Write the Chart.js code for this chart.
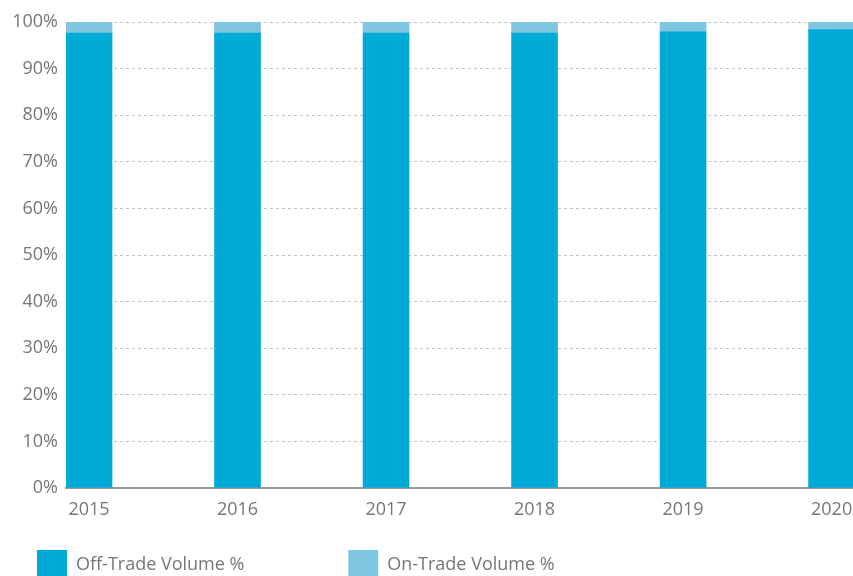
<!DOCTYPE html>
<html>
<head>
<meta charset="utf-8">
<script src="https://cdn.jsdelivr.net/npm/chart.js@4/dist/chart.umd.min.js"></script>
<style>
html,body{margin:0;padding:0;overflow:hidden;background:#fff;}
#wrap{width:880px;height:590px;}
</style>
</head>
<body>
<div id="wrap"><canvas id="c" width="880" height="590"></canvas></div>
<script>
const years = [2015, 2016, 2017, 2018, 2019, 2020];
const offTrade = [97.6, 97.6, 97.6, 97.6, 97.9, 98.4];
const onTrade = [2.4, 2.4, 2.4, 2.4, 2.1, 1.6];
const seriesNames = ['Off-Trade Volume %', 'On-Trade Volume %'];
const yTicks = [0, 10, 20, 30, 40, 50, 60, 70, 80, 90, 100];

const FONT = '"Open Sans", "Segoe UI", sans-serif';
const FS = 18;
const TXT = '#767676';
const C_OFF = '#00AAD7';
const C_ON = '#7EC6E2';
const LEG_PAD = 29;

function padText(text, targetWidth) {
  const cv = document.createElement('canvas').getContext('2d');
  cv.font = FS + 'px ' + FONT;
  const w = cv.measureText(text).width;
  const s = cv.measureText('\u00A0').width || 4;
  const n = Math.max(0, Math.round((targetWidth - w) / s));
  return text + '\u00A0'.repeat(n);
}

new Chart(document.getElementById('c'), {
  type: 'bar',
  data: {
    datasets: [
      { label: seriesNames[0], data: years.map((y, i) => ({x: y, y: offTrade[i]})), backgroundColor: C_OFF, barThickness: 46 },
      { label: seriesNames[1], data: years.map((y, i) => ({x: y, y: onTrade[i]})), backgroundColor: C_ON, barThickness: 46 }
    ]
  },
  options: {
    responsive: false,
    animation: false,
    layout: { padding: { left: 8, top: 22, right: 0, bottom: 0 } },
    scales: {
      x: {
        type: 'linear',
        stacked: true,
        offset: false,
        min: 2014.845,
        max: 2020.326,
        z: 1,
        afterBuildTicks: s => { s.ticks = years.map(v => ({ value: v })); },
        afterFit: s => { s.height = 33; },
        grid: { display: false, drawTicks: false },
        border: { display: true, color: '#9a9a9a', width: 2 },
        ticks: {
          autoSkip: false, maxRotation: 0, padding: 11,
          color: TXT, font: { family: FONT, size: FS },
          callback: v => String(v)
        }
      },
      y: {
        stacked: true,
        min: 0,
        max: 100,
        afterBuildTicks: s => { s.ticks = yTicks.map(v => ({ value: v })); },
        afterFit: s => { s.width = 58; },
        grid: { color: '#c4c4c4', lineWidth: 1, drawTicks: false },
        border: { display: false, dash: [3, 3] },
        ticks: {
          padding: 8,
          color: TXT, font: { family: FONT, size: FS },
          callback: v => v + '%'
        }
      }
    },
    plugins: {
      tooltip: { enabled: false },
      legend: {
        position: 'bottom',
        align: 'start',
        labels: {
          boxWidth: 30,
          boxHeight: 30,
          padding: LEG_PAD,
          color: TXT,
          font: { family: FONT, size: FS },
          generateLabels: chart => chart.data.datasets.map((ds, i) => ({
            text: i === 0 ? padText(ds.label, 311 - LEG_PAD - 30 - FS / 2) : ds.label,
            fillStyle: ds.backgroundColor,
            strokeStyle: ds.backgroundColor,
            lineWidth: 0,
            hidden: false,
            datasetIndex: i,
            fontColor: TXT
          }))
        }
      }
    }
  }
});
</script>
</body>
</html>
